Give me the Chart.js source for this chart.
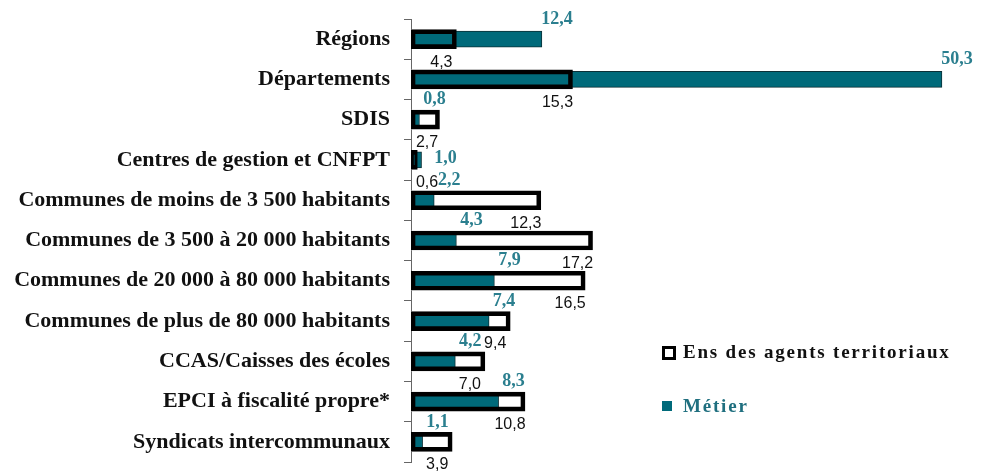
<!DOCTYPE html>
<html lang="fr">
<head>
<meta charset="utf-8">
<title>Métier et ensemble des agents territoriaux</title>
<script src="https://cdn.jsdelivr.net/npm/chart.js@4.4.1/dist/chart.umd.min.js"></script>
<style>
    html, body { margin: 0; padding: 0; background: #fff; }
    .chart-container { position: relative; width: 984px; height: 472px; }
</style>
</head>
<body>
<div class="chart-container"><canvas id="metierChart"></canvas></div>
<script>
// Data
const categories = [
    'Régions',
    'Départements',
    'SDIS',
    'Centres de gestion et CNFPT',
    'Communes de moins de 3 500 habitants',
    'Communes de 3 500 à 20 000 habitants',
    'Communes de 20 000 à 80 000 habitants',
    'Communes de plus de 80 000 habitants',
    'CCAS/Caisses des écoles',
    'EPCI à fiscalité propre*',
    'Syndicats intercommunaux'
];
const ensAgents = [4.3, 15.3, 2.7, 0.6, 12.3, 17.2, 16.5, 9.4, 7.0, 10.8, 3.9];
const metier = [12.4, 50.3, 0.8, 1.0, 2.2, 4.3, 7.9, 7.4, 4.2, 8.3, 1.1];
const seriesNames = ['Ens des agents territoriaux', 'Métier'];
const xMax = 54;

const TEAL = '#006a7a';
const TEAL_TEXT = '#2b7f8f';
const SERIF = '"Liberation Serif", "Times New Roman", serif';
const SANS = '"Liberation Sans", Arial, sans-serif';

/**
 * French decimal format
 */
const fmt = (v) => v.toFixed(1).replace('.', ',');

/**
 * Value labels: totals under the outlined bar, Métier above the teal bar
 */
const valueLabels = {
    id: 'valueLabels',
    afterDatasetsDraw(chart) {
        const ctx = chart.ctx;
        const left = chart.chartArea.left;
        const ensBars = chart.getDatasetMeta(0).data;
        const metierBars = chart.getDatasetMeta(1).data;
        const placed = [];

        ctx.save();
        ctx.textAlign = 'center';
        ctx.textBaseline = 'middle';

        ctx.font = '16px ' + SANS;
        ctx.fillStyle = '#111';
        ensBars.forEach((bar, i) => {
            const x = Math.max(bar.x - 15, left + 16);
            const y = bar.y + 23;
            ctx.fillText(fmt(ensAgents[i]), x, y);
            placed.push({ x, y });
        });

        ctx.font = 'bold 18px ' + SERIF;
        ctx.fillStyle = TEAL_TEXT;
        metierBars.forEach((bar, i) => {
            let x = bar.x + 15;
            let y = bar.y - 20;
            // move beside the bar when it would sit on a total label
            if (placed.some(p => Math.abs(p.x - x) < 16 && Math.abs(p.y - y) < 12)) {
                x = bar.x + 24;
                y = bar.y - 2;
            }
            ctx.fillText(fmt(metier[i]), x, y);
        });
        ctx.restore();
    }
};

/**
 * Floating legend on the right
 */
const floatingLegend = {
    id: 'floatingLegend',
    afterDraw(chart) {
        const ctx = chart.ctx;
        ctx.save();
        ctx.textAlign = 'left';
        ctx.textBaseline = 'middle';
        if ('letterSpacing' in ctx) ctx.letterSpacing = '1.8px';

        ctx.strokeStyle = '#000';
        ctx.lineWidth = 3;
        ctx.strokeRect(663.5, 347.5, 11, 11);
        ctx.font = 'bold 19px ' + SERIF;
        ctx.fillStyle = '#111';
        ctx.fillText(seriesNames[0], 683, 353);

        ctx.fillStyle = TEAL;
        ctx.fillRect(662, 401, 10, 10);
        ctx.fillStyle = '#1f6f7f';
        ctx.fillText(seriesNames[1], 683, 407);
        ctx.restore();
    }
};

const ctx = document.getElementById('metierChart').getContext('2d');

new Chart(ctx, {
    type: 'bar',
    data: {
        labels: categories,
        datasets: [
            {
                // white body of the total bar
                label: seriesNames[0],
                data: ensAgents,
                backgroundColor: '#fff',
                borderWidth: 0,
                barThickness: 19,
                grouped: false,
                order: 3
            },
            {
                label: seriesNames[1],
                data: metier,
                backgroundColor: TEAL,
                borderColor: '#0b3036',
                borderWidth: 1,
                borderSkipped: false,
                barThickness: 16,
                grouped: false,
                order: 2
            },
            {
                // thick outline drawn over the teal bar
                label: seriesNames[0],
                data: ensAgents,
                backgroundColor: 'rgba(0,0,0,0)',
                borderColor: '#000',
                borderWidth: 4,
                borderSkipped: false,
                barThickness: 19,
                grouped: false,
                order: 1
            }
        ]
    },
    options: {
        indexAxis: 'y',
        responsive: true,
        maintainAspectRatio: false,
        animation: false,
        layout: {
            padding: { top: 19, bottom: 10, left: 0, right: 3 }
        },
        plugins: {
            legend: { display: false },
            tooltip: { enabled: false }
        },
        scales: {
            x: {
                display: false,
                min: 0,
                max: xMax
            },
            y: {
                afterFit: (scale) => {
                    scale.width = 411;
                    scale.paddingTop = 0;
                    scale.paddingBottom = 0;
                },
                grid: {
                    drawOnChartArea: false,
                    tickLength: 7,
                    tickColor: '#666',
                    tickWidth: 1
                },
                border: { color: '#666', width: 1 },
                ticks: {
                    autoSkip: false,
                    padding: 14,
                    color: '#111',
                    font: { family: SERIF, weight: 'bold', size: 22 }
                }
            }
        }
    },
    plugins: [valueLabels, floatingLegend]
});
</script>
</body>
</html>
